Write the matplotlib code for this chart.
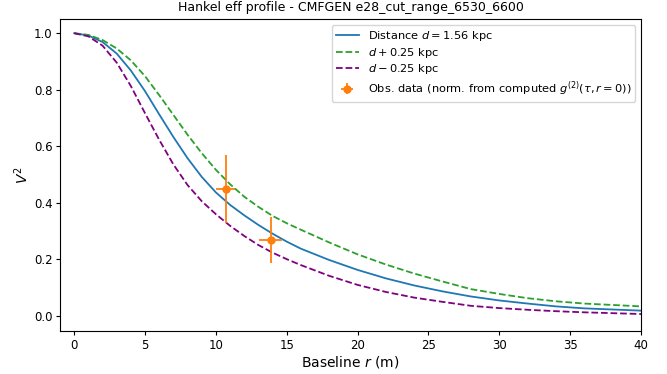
import matplotlib
matplotlib.use("Agg")
import matplotlib.pyplot as plt

# baseline grid (m) the curves were read on
baseline = [0, 1, 2, 3, 4, 5, 6, 7, 8, 9, 10, 11, 12, 13, 14, 15, 16,
            18, 20, 22, 24, 26, 28, 30, 32, 34, 36, 38, 40]

# V^2 for d = 1.56 kpc
v2_nominal = [1.000, 0.992, 0.969, 0.928, 0.868, 0.795, 0.713, 0.633, 0.558, 0.492,
              0.437, 0.393, 0.356, 0.322, 0.291, 0.263, 0.238,
              0.198, 0.163, 0.133, 0.108, 0.087, 0.069, 0.055, 0.044, 0.034, 0.027, 0.023, 0.019]

# V^2 for d + 0.25 kpc
v2_far = [1.000, 0.994, 0.976, 0.946, 0.904, 0.848, 0.781, 0.711, 0.641, 0.576,
          0.517, 0.466, 0.422, 0.386, 0.354, 0.328, 0.305,
          0.260, 0.218, 0.182, 0.150, 0.122, 0.095, 0.078, 0.063, 0.052, 0.044, 0.039, 0.034]

# V^2 for d - 0.25 kpc
v2_near = [1.000, 0.989, 0.956, 0.896, 0.813, 0.717, 0.623, 0.536, 0.463, 0.406,
           0.360, 0.319, 0.283, 0.251, 0.224, 0.201, 0.180,
           0.142, 0.110, 0.085, 0.065, 0.050, 0.036, 0.028, 0.022, 0.017, 0.013, 0.010, 0.007]

# observed points
obs_r = [10.7, 13.88]
obs_v2 = [0.449, 0.269]
obs_rerr = [0.67, 0.81]
obs_v2err = [0.12, 0.081]

fig = plt.figure(figsize=(6.67, 3.74), dpi=100)
ax = fig.add_subplot(111)
fig.subplots_adjust(left=0.09, right=0.961, top=0.949, bottom=0.115)

ax.plot(baseline, v2_nominal, color="C0", lw=1.3, label=r"Distance $d = 1.56$ kpc")
ax.plot(baseline, v2_far, color="C2", lw=1.3, ls="--", label=r"$d + 0.25$ kpc")
ax.plot(baseline, v2_near, color="purple", lw=1.3, ls="--", label=r"$d - 0.25$ kpc")
ax.errorbar(obs_r, obs_v2, xerr=obs_rerr, yerr=obs_v2err, fmt="o", color="C1",
            ms=5, elinewidth=1.3,
            label=r"Obs. data (norm. from computed $g^{(2)}(\tau, r=0)$)")

ax.set_xlim(-1, 40)
ax.set_ylim(-0.053, 1.05)
ax.set_xlabel(r"Baseline $r$ (m)", fontsize=10, labelpad=1.5)
ax.set_ylabel(r"$V^2$", fontsize=10, labelpad=2)
ax.set_title("Hankel eff profile - CMFGEN e28_cut_range_6530_6600", fontsize=9)
ax.tick_params(labelsize=8.5, length=3, pad=2.5)
ax.legend(loc="upper right", fontsize=8.2, labelspacing=0.25, borderpad=0.35)

fig.savefig("out.png", dpi=100)
